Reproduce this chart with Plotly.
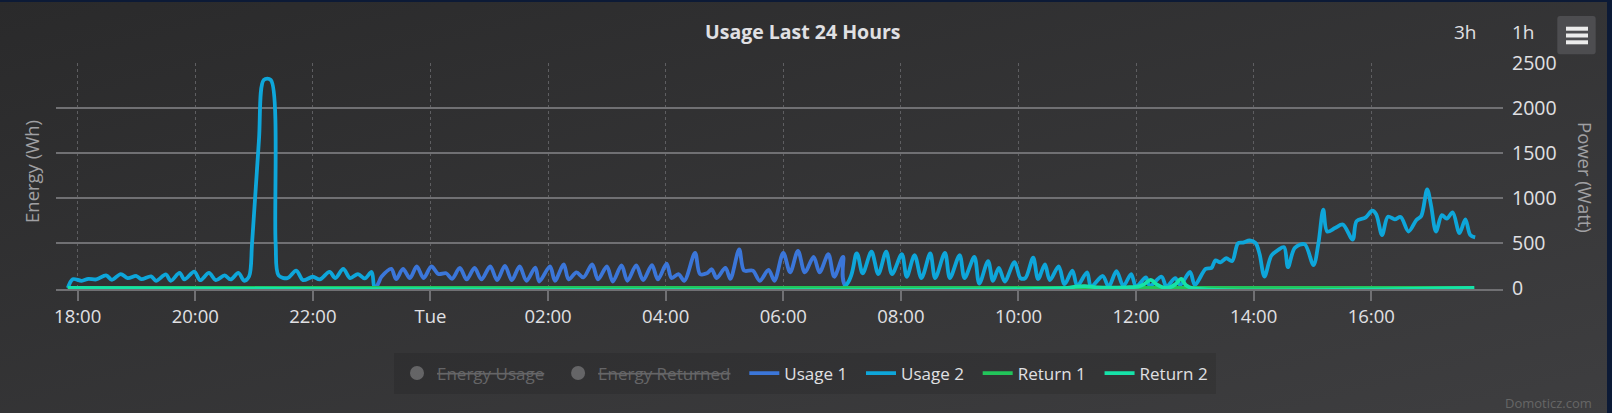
import base64
import pandas as pd
import plotly.graph_objects as go

# ---------------- data (minutes after Monday 18:00, watts) ----------------
USAGE1_T = [-10, 303, 310, 320, 325, 332, 339, 346, 353, 361, 368, 376, 382, 390, 397, 405, 412,
            421, 428, 436, 443, 451, 458, 467, 471, 482, 487, 496, 501, 509, 516, 525, 531, 540,
            546, 555, 561, 570, 577, 586, 592, 601, 606, 613, 619, 630, 635, 642, 647, 652, 661,
            666, 675, 680, 689, 696, 705, 711, 720, 727, 735, 742, 751, 757, 766, 772, 781, 785, 1425]
USAGE1_W = [0, 0, 125, 212, 98, 212, 110, 239, 110, 239, 155, 163, 102, 223, 95, 223, 95,
            239, 87, 246, 87, 239, 80, 227, 72, 239, 80, 261, 95, 174, 117, 261, 95, 239,
            72, 250, 80, 250, 87, 254, 95, 269, 110, 155, 80, 390, 155, 163, 208, 110, 223,
            102, 428, 193, 193, 80, 201, 80, 390, 174, 413, 174, 345, 174, 375, 125, 345, 0, 0]

USAGE2_T = [-10, -5, 4, 11, 19, 29, 35, 44, 51, 60, 65, 75, 80, 90, 95, 104, 109, 119, 125, 134,
            141, 150, 156, 164, 170, 175, 178, 185, 190, 197, 202, 205, 214, 223, 230, 240, 247,
            257, 263, 271, 278, 286, 293, 300, 303, 306, 781, 795, 801, 810, 817, 825, 831, 841,
            846, 854, 861, 870, 875, 885, 890, 900, 905, 915, 920, 929, 934, 940, 946, 956, 962,
            967, 975, 980, 987, 992, 1001, 1007, 1015, 1020, 1030, 1034, 1046, 1052, 1060, 1067,
            1075, 1080, 1090, 1094, 1106, 1111, 1120, 1125, 1135, 1140, 1151, 1157, 1161, 1166,
            1172, 1178, 1184, 1189, 1196, 1202, 1206, 1211, 1218, 1225, 1231, 1235, 1242, 1252,
            1261, 1266, 1271, 1275, 1283, 1291, 1301, 1305, 1314, 1321, 1325, 1331, 1337, 1344,
            1350, 1358, 1366, 1371, 1377, 1381, 1386, 1392, 1397, 1403, 1410, 1416, 1421, 1426]
USAGE2_W = [0, 98, 80, 102, 95, 140, 91, 155, 110, 133, 98, 129, 80, 150, 80, 167, 95, 182, 87, 167,
            87, 140, 95, 167, 80, 130, 500, 1640, 2310, 2310, 500, 140, 110, 193, 87, 125, 95,
            178, 110, 212, 110, 155, 106, 178, 0, 0, 0, 383, 163, 402, 155, 402, 155, 375,
            125, 364, 110, 383, 110, 390, 110, 364, 110, 345, 49, 299, 80, 223, 72, 288, 110,
            110, 337, 98, 261, 87, 239, 42, 193, 23, 174, 15, 133, 15, 186, 23,
            155, 15, 117, 23, 125, 15, 110, 34, 178, 34, 212, 223, 307, 284,
            330, 299, 496, 504, 527, 498, 377, 127, 358, 423, 454, 231, 446, 485,
            254, 492, 869, 627, 665, 704, 538, 742, 781, 858, 819, 588, 792, 762,
            788, 627, 754, 800, 1095, 915, 627, 808, 769, 838, 608, 762, 588, 562]

RETURN1_T = [-10, 1425]
RETURN1_W = [0, 0]

RETURN2_T = [-10, 1010, 1018, 1028, 1040, 1070, 1082, 1088, 1095, 1101, 1108, 1115, 1120, 1126,
             1131, 1137, 1425]
RETURN2_W = [0, 0, 15, 20, 8, 8, 15, 40, 90, 40, 5, 10, 40, 100, 30, 0, 0]

TICK_HOURS = [0, 2, 4, 6, 8, 10, 12, 14, 16, 18, 20, 22]
TICK_LABELS = ["18:00", "20:00", "22:00", "Tue", "02:00", "04:00", "06:00",
               "08:00", "10:00", "12:00", "14:00", "16:00"]
POWER_TICKS = [0, 500, 1000, 1500, 2000, 2500]

BASE = pd.Timestamp("2024-01-08 18:00")


def to_time(minutes):
    return [BASE + pd.Timedelta(minutes=m) for m in minutes]


W, H = 1612, 413
PX0, PX1 = 55.5, 1503.0          # plot area left/right (px)
PY_TOP, PY_BOT = 62.7, 289.0      # plot area top/bottom (px)


def px(x):
    return x / W


def py(y):
    return 1 - y / H


FONT = "Open Sans, DejaVu Sans, sans-serif"
TXT = "#E0E0E3"
GRID = "#707073"
PAD = "\u00a0\u00a0"

fig = go.Figure()

hidden_col = "#9a9a9c"
for nm in ("Energy Usage", "Energy Returned"):
    fig.add_trace(go.Scatter(x=[None], y=[None], mode="markers", visible="legendonly",
                             marker=dict(color=hidden_col, size=14, symbol="circle"),
                             name=f'<span style="color:{hidden_col}"><s>{nm}</s></span>{PAD}'))

series = [
    ("Usage 1", USAGE1_T, USAGE1_W, "#3b76d9", PAD),
    ("Usage 2", USAGE2_T, USAGE2_W, "#0ea6da", PAD),
    ("Return 1", RETURN1_T, RETURN1_W, "#22c55a", PAD),
    ("Return 2", RETURN2_T, RETURN2_W, "#16e2a8", ""),
]
for name, t, w, col, pad in series:
    fig.add_trace(go.Scatter(x=to_time(t), y=w, name=name + pad, mode="lines",
                             line=dict(color=col, width=3.8, shape="spline", smoothing=0.9),
                             hoverinfo="x+y"))

# background gradient (Highcharts dark theme)
svg = ('<svg xmlns="http://www.w3.org/2000/svg" width="1612" height="413" preserveAspectRatio="none">'
       '<defs><linearGradient id="g" x1="0" y1="0" x2="1" y2="1">'
       '<stop offset="0" stop-color="#2a2a2b"/><stop offset="1" stop-color="#3e3e40"/>'
       '</linearGradient></defs><rect width="1612" height="413" fill="url(#g)"/></svg>')
src = "data:image/svg+xml;base64," + base64.b64encode(svg.encode()).decode()

x_range = to_time([-22.6, 1454.4])

fig.update_layout(
    width=W, height=H,
    margin=dict(l=0, r=0, t=0, b=0),
    paper_bgcolor="#333335",
    plot_bgcolor="rgba(0,0,0,0)",
    font=dict(family=FONT, color=TXT, size=17),
    showlegend=True,
    images=[dict(source=src, xref="paper", yref="paper", x=0, y=1, sizex=1, sizey=1,
                 xanchor="left", yanchor="top", sizing="stretch", layer="below")],
    xaxis=dict(
        type="date", domain=[px(PX0), px(PX1)], range=x_range,
        tickvals=[BASE + pd.Timedelta(hours=h) for h in TICK_HOURS],
        ticktext=TICK_LABELS,
        showgrid=True, gridcolor="#5e5e61", griddash="dot", gridwidth=1,
        showline=True, linecolor=GRID, linewidth=1.5,
        ticks="outside", ticklen=10, tickcolor=GRID, tickwidth=1.5,
        tickfont=dict(size=18.5, color=TXT, family=FONT),
        zeroline=False, automargin=False, fixedrange=True,
    ),
    yaxis=dict(
        domain=[py(PY_BOT), py(PY_TOP)], range=[-11.1, 2500], side="right",
        tickvals=POWER_TICKS, ticktext=[str(v) for v in POWER_TICKS],
        showgrid=True, gridcolor=GRID, gridwidth=1.5,
        zeroline=False, showline=False, ticks="", ticklabelstandoff=8,
        tickfont=dict(size=19.5, color=TXT, family=FONT),
        automargin=False, fixedrange=True,
    ),
    legend=dict(
        orientation="h", x=px(805), xanchor="center", y=py(373.5), yanchor="middle",
        bgcolor="rgba(0,0,0,0)", borderwidth=0,
        font=dict(size=17, color=TXT, family=FONT),
        itemclick=False, itemdoubleclick=False,
    ),
)

ann = [
    dict(text="<b>Usage Last 24 Hours</b>", x=px(803), y=py(31), font=dict(size=19.5, color=TXT)),
    dict(text="Energy (Wh)", x=px(31), y=py(172), textangle=-90, font=dict(size=18.5, color="#A0A0A3")),
    dict(text="Power (Watt)", x=px(1586), y=py(177), textangle=90, font=dict(size=18.5, color="#A0A0A3")),
    dict(text="3h", x=px(1465), y=py(32), font=dict(size=19, color=TXT)),
    dict(text="1h", x=px(1523), y=py(32), font=dict(size=19, color=TXT)),
    dict(text="Domoticz.com", x=px(1594), y=py(403), xanchor="right", font=dict(size=13, color="#666666")),
]
for a in ann:
    a.setdefault("xanchor", "center")
    fig.add_annotation(xref="paper", yref="paper", yanchor="middle", showarrow=False, **a)

shapes = [
    # legend background box
    dict(type="rect", x0=px(394), x1=px(1216), y0=py(394), y1=py(353),
         fillcolor="rgba(0,0,0,0.1)", line=dict(width=0), layer="below"),
    # hamburger button
    dict(type="path", path=("M {a},{t} L {b},{t} Q {b2},{t} {b2},{t2} L {b2},{u2} Q {b2},{u} {b},{u} "
                            "L {a},{u} Q {a2},{u} {a2},{u2} L {a2},{t2} Q {a2},{t} {a},{t} Z").format(
        a=px(1560), b=px(1593), a2=px(1557.3), b2=px(1595.7),
        t=py(16), t2=py(19), u=py(54.3), u2=py(51.3)),
         fillcolor="#4d4d50", line=dict(width=0)),
]
for yy in (28.7, 35.5, 42.3):
    shapes.append(dict(type="line", x0=px(1566), x1=px(1588), y0=py(yy), y1=py(yy),
                       line=dict(color="#ececec", width=4)))
# dark page frame at top / right
shapes.append(dict(type="rect", x0=0, x1=1, y0=py(2), y1=1, fillcolor="#0c1a36", line=dict(width=0)))
shapes.append(dict(type="rect", x0=px(1607), x1=1, y0=0, y1=1, fillcolor="#0c1a36", line=dict(width=0)))
for s in shapes:
    fig.add_shape(xref="paper", yref="paper", **s)

fig.write_html("out.html", config={"displayModeBar": False},
               post_script="document.body.style.margin='0px';document.body.style.overflow='hidden';")
